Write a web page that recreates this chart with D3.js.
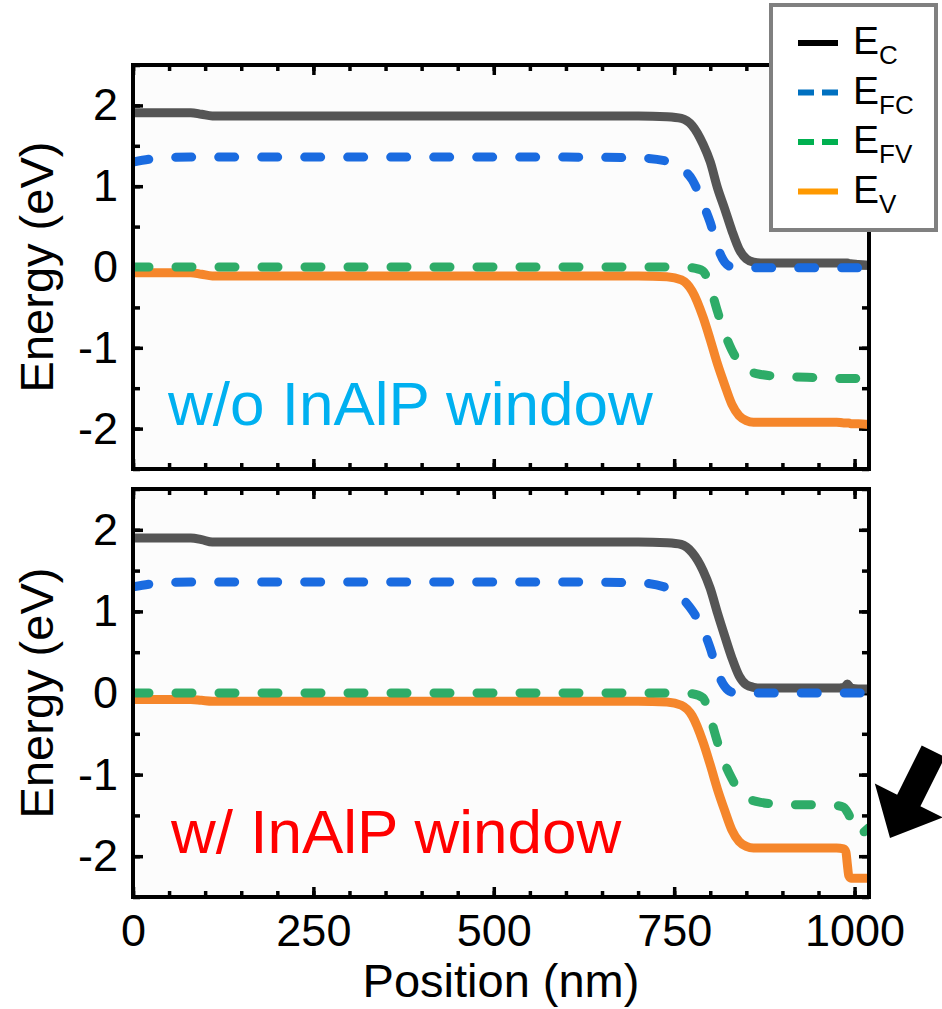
<html>
  <head>
    <script src="https://d3js.org/d3.v7.min.js"></script>
  </head>
  <body style="margin:0;background:#fff">
<div id="chart"></div>
<script>
// positions along the device (nm), shared by every curve
var positions = [0, 40, 80, 95, 110, 200, 400, 600, 700, 740, 760, 775, 790, 800, 810, 820, 830, 840, 850, 860, 870, 890, 920, 950, 975, 985, 988, 990, 992, 995, 1005, 1020];

// top panel: w/o InAlP window
var topEC  = [1.91, 1.91, 1.91, 1.89, 1.87, 1.87, 1.87, 1.87, 1.87, 1.86, 1.84, 1.75, 1.52, 1.30, 0.98, 0.72, 0.45, 0.22, 0.10, 0.06, 0.05, 0.05, 0.05, 0.05, 0.05, 0.05, 0.05, 0.05, 0.04, 0.04, 0.03, 0.02];
var topEFC = [1.30, 1.35, 1.36, 1.36, 1.36, 1.36, 1.36, 1.36, 1.35, 1.31, 1.22, 1.08, 0.78, 0.55, 0.25, 0.06, 0.00, -0.01, -0.01, -0.01, -0.01, -0.01, -0.01, -0.01, -0.01, -0.01, -0.01, -0.01, -0.01, -0.01, -0.01, -0.01];
var topEFV = [0, 0, 0, 0, 0, 0, 0, 0, 0, 0, 0, -0.01, -0.05, -0.25, -0.55, -0.82, -1.03, -1.18, -1.27, -1.31, -1.33, -1.35, -1.36, -1.37, -1.38, -1.38, -1.38, -1.38, -1.38, -1.38, -1.38, -1.38];
var topEV  = [-0.07, -0.07, -0.07, -0.09, -0.11, -0.11, -0.11, -0.11, -0.11, -0.12, -0.16, -0.30, -0.62, -0.90, -1.20, -1.46, -1.70, -1.84, -1.90, -1.92, -1.92, -1.92, -1.92, -1.92, -1.92, -1.93, -1.93, -1.93, -1.93, -1.94, -1.94, -1.95];

// bottom panel: w/ InAlP window
var botEC  = [1.90, 1.90, 1.90, 1.88, 1.85, 1.85, 1.85, 1.85, 1.85, 1.84, 1.82, 1.72, 1.50, 1.28, 0.98, 0.70, 0.43, 0.21, 0.10, 0.07, 0.06, 0.06, 0.06, 0.06, 0.06, 0.07, 0.09, 0.11, 0.09, 0.06, 0.05, 0.05];
var botEFC = [1.30, 1.35, 1.36, 1.36, 1.36, 1.36, 1.36, 1.36, 1.35, 1.29, 1.17, 1.01, 0.78, 0.55, 0.26, 0.08, 0.01, 0, 0, 0, 0, 0, 0, 0, 0, 0, 0, 0, 0, 0, 0, 0];
var botEFV = [0, 0, 0, 0, 0, 0, 0, 0, 0, 0, 0, -0.01, -0.06, -0.30, -0.60, -0.86, -1.05, -1.20, -1.28, -1.32, -1.34, -1.36, -1.37, -1.37, -1.38, -1.40, -1.43, -1.46, -1.49, -1.55, -1.73, -1.65];
var botEV  = [-0.08, -0.08, -0.08, -0.09, -0.10, -0.10, -0.10, -0.10, -0.10, -0.11, -0.15, -0.28, -0.60, -0.88, -1.18, -1.44, -1.68, -1.82, -1.88, -1.90, -1.90, -1.90, -1.90, -1.90, -1.90, -1.91, -1.95, -2.10, -2.24, -2.27, -2.27, -2.27];

var xTicks = [0, 250, 500, 750, 1000];
var yTicks = [-2, -1, 0, 1, 2];

var legendNames = ["C", "FC", "FV", "V"];
var legendColors = ["#000000", "#0070c0", "#00b050", "#ff9900"];
var lineColors = {EC: "#555555", EFC: "#1a6be0", EFV: "#2eac68", EV: "#f5862b"};

var font = "'Liberation Sans', Arial, sans-serif";
var W = 942, H = 1009;

var svg = d3.select("#chart").append("svg")
  .attr("width", W).attr("height", H)
  .style("font-family", font);

var x = d3.scaleLinear().domain([0, 1020]).range([133, 869]);

var panels = [
  {top: 65, bottom: 469, label: "w/o InAlP window", color: "#00b0f0", lx: 168, ly: 425,
   series: {EC: topEC, EFC: topEFC, EFV: topEFV, EV: topEV}, xlabels: false},
  {top: 489, bottom: 897, label: "w/ InAlP window", color: "#ff0000", lx: 171, ly: 853,
   series: {EC: botEC, EFC: botEFC, EFV: botEFV, EV: botEV}, xlabels: true}
];

var minorX = d3.range(0, 1001, 50);
var minorY = d3.range(-2.5, 2.51, 0.5);

panels.forEach(function(p, i) {
  var y = d3.scaleLinear().domain([-2.5, 2.5]).range([p.bottom, p.top]);
  var g = svg.append("g");

  g.append("rect")
    .attr("x", x.range()[0]).attr("y", p.top)
    .attr("width", x.range()[1] - x.range()[0]).attr("height", p.bottom - p.top)
    .attr("fill", "#fcfcfc");

  // minor ticks, all four sides, pointing in
  g.append("g").attr("transform", "translate(0," + p.bottom + ")")
    .call(d3.axisBottom(x).tickValues(minorX).tickSize(-6).tickFormat(""));
  g.append("g").attr("transform", "translate(0," + p.top + ")")
    .call(d3.axisTop(x).tickValues(minorX).tickSize(-6).tickFormat(""));
  g.append("g").attr("transform", "translate(" + x.range()[0] + ",0)")
    .call(d3.axisLeft(y).tickValues(minorY).tickSize(-7).tickFormat(""));
  g.append("g").attr("transform", "translate(" + x.range()[1] + ",0)")
    .call(d3.axisRight(y).tickValues(minorY).tickSize(-7).tickFormat(""));

  // major ticks with labels
  g.append("g").attr("transform", "translate(0," + p.bottom + ")")
    .call(d3.axisBottom(x).tickValues(xTicks).tickSize(-10).tickPadding(17)
      .tickFormat(p.xlabels ? d3.format("d") : ""));
  g.append("g").attr("transform", "translate(0," + p.top + ")")
    .call(d3.axisTop(x).tickValues(xTicks).tickSize(-10).tickFormat(""));
  g.append("g").attr("transform", "translate(" + x.range()[0] + ",0)")
    .call(d3.axisLeft(y).tickValues(yTicks).tickSize(-10).tickPadding(15)
      .tickFormat(function(d) { return d < 0 ? "-" + Math.abs(d) : d; }));
  g.append("g").attr("transform", "translate(" + x.range()[1] + ",0)")
    .call(d3.axisRight(y).tickValues(yTicks).tickSize(-10).tickFormat(""));

  g.selectAll(".domain").remove();
  g.selectAll(".tick line").attr("stroke", "#000").attr("stroke-width", 3.5);
  g.selectAll(".tick text").attr("fill", "#000").style("font-size", "45px").style("font-family", font);

  // curves
  var clipId = "clip" + i;
  svg.append("clipPath").attr("id", clipId).append("rect")
    .attr("x", x.range()[0]).attr("y", p.top)
    .attr("width", x.range()[1] - x.range()[0]).attr("height", p.bottom - p.top);

  var line = d3.line()
    .x(function(d, j) { return x(positions[j]); })
    .y(function(d) { return y(d); })
    .curve(d3.curveMonotoneX);

  var cg = g.append("g").attr("clip-path", "url(#" + clipId + ")");
  ["EC", "EV", "EFV", "EFC"].forEach(function(k) {
    var dashed = (k === "EFC" || k === "EFV");
    cg.append("path")
      .datum(p.series[k])
      .attr("d", line)
      .attr("fill", "none")
      .attr("stroke", lineColors[k])
      .attr("stroke-width", 9)
      .attr("stroke-linecap", dashed ? "round" : "butt")
      .attr("stroke-linejoin", "round")
      .attr("stroke-dasharray", dashed ? "16,27" : null);
  });

  // frame
  g.append("rect")
    .attr("x", x.range()[0]).attr("y", p.top)
    .attr("width", x.range()[1] - x.range()[0]).attr("height", p.bottom - p.top)
    .attr("fill", "none").attr("stroke", "#000").attr("stroke-width", 4);

  // y axis title
  g.append("text")
    .attr("transform", "translate(53," + ((p.top + p.bottom) / 2) + ") rotate(-90)")
    .attr("text-anchor", "middle")
    .style("font-size", "47px")
    .text("Energy (eV)");

  // panel annotation
  g.append("text")
    .attr("x", p.lx).attr("y", p.ly)
    .attr("fill", p.color)
    .style("font-size", "62px")
    .text(p.label);
});

// x axis title
svg.append("text")
  .attr("x", (x.range()[0] + x.range()[1]) / 2).attr("y", 997)
  .attr("text-anchor", "middle")
  .style("font-size", "47px")
  .text("Position (nm)");

// legend
var lg = svg.append("g");
lg.append("rect").attr("x", 771).attr("y", 5).attr("width", 165).attr("height", 225)
  .attr("fill", "#fff").attr("stroke", "#808080").attr("stroke-width", 4);
legendNames.forEach(function(n, i) {
  var cy = 43 + i * 49.5;
  lg.append("line")
    .attr("x1", 798).attr("x2", 838).attr("y1", cy).attr("y2", cy)
    .attr("stroke", legendColors[i]).attr("stroke-width", 6)
    .attr("stroke-dasharray", (i === 1 || i === 2) ? "16,8" : null);
  var t = lg.append("text").attr("x", 853).attr("y", cy + 11).style("font-size", "39px");
  t.append("tspan").text("E");
  t.append("tspan").attr("dy", 10).style("font-size", "26px").text(n);
});

// arrow pointing at the window region
var tip = [890, 838], dir = [-0.447, 0.894], nrm = [0.894, 0.447];
var headLen = 42, headHalf = 38, shaftHalf = 13;
var hb = [tip[0] - dir[0] * headLen, tip[1] - dir[1] * headLen];
function pt(b, along, side) {
  return [b[0] - dir[0] * along + nrm[0] * side, b[1] - dir[1] * along + nrm[1] * side];
}
var arrowPts = [tip, pt(hb, 0, headHalf), pt(hb, 0, shaftHalf), pt(hb, 55, shaftHalf),
                pt(hb, 55, -shaftHalf), pt(hb, 0, -shaftHalf), pt(hb, 0, -headHalf)];
svg.append("path")
  .attr("d", d3.line()(arrowPts) + "Z")
  .attr("fill", "#000");
</script>
  </body>
</html>
